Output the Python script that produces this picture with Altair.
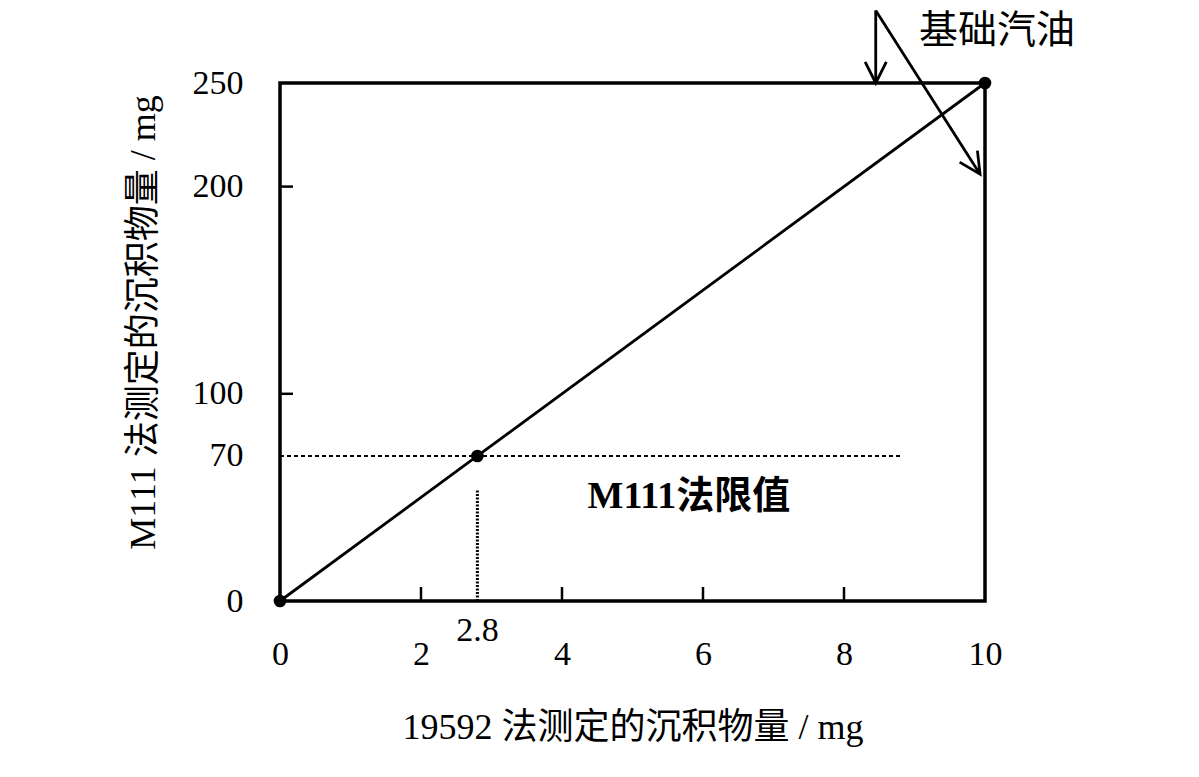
import altair as alt
import pandas as pd

# ---- data ----
line_x = [0, 2.8, 10]
line_y = [0, 70, 250]

limit_value = 70          # M111 法限值
limit_x_end = 8.8
limit_x = 2.8             # 19592 法 equivalent
limit_v_top = 54

x_ticks = [0, 2, 4, 6, 8, 10]
y_ticks = [0, 70, 100, 200, 250]
x_inner_ticks = [2, 4, 6, 8]
y_inner_ticks = [100, 200]

limit_label = "M111法限值"
limit_label_pos = [5.8, 50]
extra_x_label = "2.8"

base_label = "基础汽油"
base_label_pos = [10.17, 275]
arrow_apex = [8.45, 285]
arrow_tips_x = [8.45, 9.93]
arrow_tips_y = [250, 206]
arrow_angles = [0, 327]

x_title = "19592 法测定的沉积物量 / mg"
y_title = "M111 法测定的沉积物量 / mg"

W, H = 705, 518
FONT = "Liberation Serif, Noto Sans CJK SC"

xs = alt.Scale(domain=[0, 10], nice=False, zero=False)
ys = alt.Scale(domain=[0, 250], nice=False, zero=False)

df_line = pd.DataFrame({"x": line_x, "y": line_y})

base = alt.Chart(df_line)

main_line = base.mark_line(color="black", strokeWidth=2.8).encode(
    x=alt.X("x:Q", scale=xs,
            axis=alt.Axis(values=x_ticks, format="d", title=x_title, grid=False, ticks=False, tickSize=0,
                          domain=False, labelFontSize=34, labelFont=FONT, labelColor="black",
                          labelPadding=36, titleFont=FONT, titleFontSize=36, titleFontWeight="normal",
                          titleColor="black", titleY=126, titleBaseline="middle", labelFlush=False)),
    y=alt.Y("y:Q", scale=ys,
            axis=alt.Axis(values=y_ticks, format="d", title=y_title, grid=False, ticks=False, tickSize=0,
                          domain=False, labelFontSize=34, labelFont=FONT, labelColor="black",
                          labelPadding=37, titleFont=FONT, titleFontSize=36, titleFontWeight="normal",
                          titleColor="black", titleAngle=270, titleX=-137, titleY=239,
                          titleBaseline="middle", titleAlign="center", labelFlush=False)),
)

pts = base.mark_point(filled=True, color="black", size=160, opacity=1).encode(
    x=alt.X("x:Q", scale=xs), y=alt.Y("y:Q", scale=ys))

df_h = pd.DataFrame({"x": [0], "x2": [limit_x_end], "y": [limit_value]})
hline = alt.Chart(df_h).mark_rule(color="black", strokeWidth=2, strokeDash=[4, 3]).encode(
    x=alt.X("x:Q", scale=xs), x2="x2:Q", y=alt.Y("y:Q", scale=ys))

df_v = pd.DataFrame({"x": [limit_x], "y": [0], "y2": [limit_v_top]})
vline = alt.Chart(df_v).mark_rule(color="black", strokeWidth=3, strokeDash=[2, 1.5]).encode(
    x=alt.X("x:Q", scale=xs), y=alt.Y("y:Q", scale=ys), y2="y2:Q")

df_xt = pd.DataFrame({"x": x_inner_ticks})
xt = alt.Chart(df_xt).mark_rule(color="black", strokeWidth=2.5).encode(
    x=alt.X("x:Q", scale=xs), y=alt.value(H), y2=alt.value(H - 14))

df_yt = pd.DataFrame({"y": y_inner_ticks})
yt = alt.Chart(df_yt).mark_rule(color="black", strokeWidth=2.5).encode(
    y=alt.Y("y:Q", scale=ys), x=alt.value(0), x2=alt.value(13))

df_lbl = pd.DataFrame({"x": [limit_x], "t": [extra_x_label]})
xlbl = alt.Chart(df_lbl).mark_text(font=FONT, fontSize=34, color="black", baseline="middle").encode(
    x=alt.X("x:Q", scale=xs), y=alt.value(H + 30), text="t:N")

df_lim = pd.DataFrame({"x": [limit_label_pos[0]], "y": [limit_label_pos[1]], "t": [limit_label]})
limtxt = alt.Chart(df_lim).mark_text(font=FONT, fontSize=38, fontWeight="bold", color="black",
                                     baseline="middle").encode(
    x=alt.X("x:Q", scale=xs), y=alt.Y("y:Q", scale=ys), text="t:N")

df_base = pd.DataFrame({"x": [base_label_pos[0]], "y": [base_label_pos[1]], "t": [base_label]})
basetxt = alt.Chart(df_base).mark_text(font=FONT, fontSize=39, color="black",
                                       baseline="middle").encode(
    x=alt.X("x:Q", scale=xs), y=alt.Y("y:Q", scale=ys), text="t:N")

df_arr = pd.DataFrame({"x": [arrow_apex[0]] * 2, "y": [arrow_apex[1]] * 2,
                       "x2": arrow_tips_x, "y2": arrow_tips_y, "a": arrow_angles})
arr = alt.Chart(df_arr).mark_rule(color="black", strokeWidth=2.8).encode(
    x=alt.X("x:Q", scale=xs), y=alt.Y("y:Q", scale=ys), x2="x2:Q", y2="y2:Q")
heads = alt.Chart(df_arr).mark_point(shape="M -0.5 -1 L 0 0 L 0.5 -1", filled=False, color="black",
                                     strokeWidth=2.8, size=1800, opacity=1).encode(
    x=alt.X("x2:Q", scale=xs), y=alt.Y("y2:Q", scale=ys), angle=alt.Angle("a:Q", scale=None))

chart = alt.layer(hline, vline, xt, yt, main_line, pts, xlbl, limtxt, basetxt, arr, heads).properties(
    width=W, height=H,
    autosize=alt.AutoSizeParams(type="none"),
    padding={"left": 280, "top": 83, "right": 214, "bottom": 176},
    background="white",
).configure_view(stroke="black", strokeWidth=3.5)

chart.save("out.html", embed_options={"renderer": "svg", "actions": False})
